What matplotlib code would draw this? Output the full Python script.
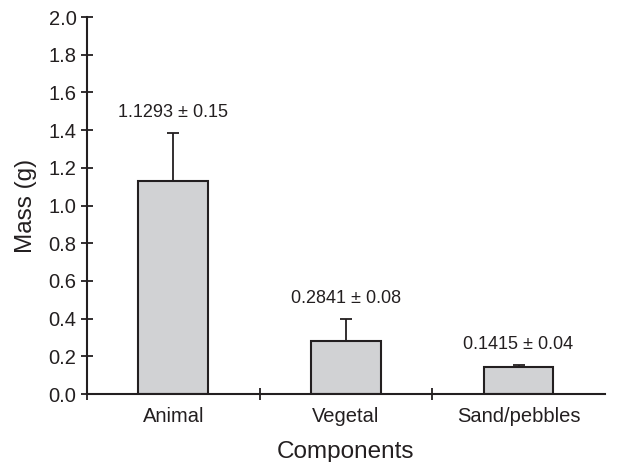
import matplotlib
matplotlib.use("Agg")
import matplotlib.pyplot as plt
import numpy as np

components = ["Animal", "Vegetal", "Sand/pebbles"]
mass = [1.1293, 0.2841, 0.1415]
err_drawn = [0.255, 0.114, 0.013]
labels = ["1.1293 \u00b1 0.15", "0.2841 \u00b1 0.08", "0.1415 \u00b1 0.04"]
yticks = [0.0, 0.2, 0.4, 0.6, 0.8, 1.0, 1.2, 1.4, 1.6, 1.8, 2.0]

plt.rcParams["font.family"] = ["Liberation Sans", "DejaVu Sans"]
ink = "#231f20"

fig = plt.figure(figsize=(6.21, 4.62), dpi=100)
ax = fig.add_axes([0.140, 0.147, 0.834, 0.816])

x = np.arange(len(components))
ax.bar(x, mass, width=0.405, color="#d1d2d4", edgecolor=ink, linewidth=1.5, zorder=2)
ax.errorbar(x, mass, yerr=[np.zeros(len(mass)), err_drawn], fmt="none",
            ecolor=ink, elinewidth=1.3, capsize=4, capthick=1.3, zorder=1)

for xi, m, e, lab in zip(x, mass, err_drawn, labels):
    ax.annotate(lab, (xi, m + e), xytext=(0, 15), textcoords="offset points",
                ha="center", va="center", fontsize=13, color=ink)

ax.set_xlim(-0.5, 2.5)
ax.set_ylim(0, 2.0)
ax.set_yticks(yticks)
ax.set_yticklabels([f"{t:.1f}" for t in yticks])
ax.set_xticks([-0.5, 0.5, 1.5])
ax.set_xticklabels([])
ax.set_xticks(x, minor=True)
ax.set_xticklabels(components, minor=True)
ax.tick_params(axis="x", which="minor", length=0, pad=9, labelsize=14.5, labelcolor=ink)
ax.tick_params(axis="x", which="major", direction="inout", length=9, width=1.3, color=ink)
ax.tick_params(axis="y", direction="inout", length=9, width=1.3, color=ink,
               labelsize=14.5, labelcolor=ink, pad=3)

for side in ["top", "right"]:
    ax.spines[side].set_visible(False)
for side in ["left", "bottom"]:
    ax.spines[side].set_linewidth(1.5)
    ax.spines[side].set_color(ink)

ax.set_xlabel("Components", fontsize=17.5, color=ink, labelpad=11)
ax.set_ylabel("Mass (g)", fontsize=17.5, color=ink, labelpad=8)

fig.savefig("out.png", dpi=100)
